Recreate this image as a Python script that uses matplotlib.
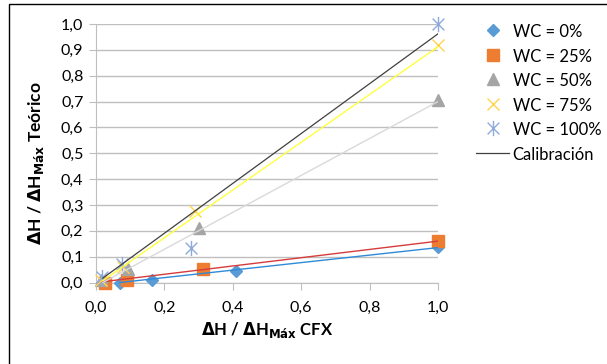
import matplotlib
matplotlib.use('Agg')
import matplotlib.pyplot as plt
from matplotlib.path import Path
from matplotlib.patches import Rectangle

# puntos (CFX, Teórico) por serie
cfx_0 = [0.07, 0.165, 0.41, 1.0]
teo_0 = [0.0, 0.01, 0.043, 0.137]
cfx_25 = [0.025, 0.09, 0.313, 1.0]
teo_25 = [0.0, 0.01, 0.052, 0.16]
cfx_50 = [0.015, 0.094, 0.30, 1.0]
teo_50 = [0.01, 0.054, 0.21, 0.705]
cfx_75 = [0.015, 0.08, 0.29, 1.0]
teo_75 = [0.01, 0.06, 0.277, 0.918]
cfx_100 = [0.018, 0.075, 0.278, 1.0]
teo_100 = [0.02, 0.073, 0.134, 1.0]

# líneas de tendencia (extremos)
lin_0 = ([0.07, 1.0], [0.0, 0.135])
lin_25 = ([0.02, 1.0], [0.003, 0.16])
lin_50 = ([0.02, 1.0], [0.0, 0.70])
lin_75 = ([0.02, 1.0], [0.007, 0.912])
lin_cal = ([0.02, 1.0], [0.017, 0.962])

ticks = [0.0, 0.1, 0.2, 0.3, 0.4, 0.5, 0.6, 0.7, 0.8, 0.9, 1.0]
xticks = [0.0, 0.2, 0.4, 0.6, 0.8, 1.0]

plt.rcParams['font.family'] = ['Lato', 'DejaVu Sans']

fig = plt.figure(figsize=(6.07, 3.64), dpi=100)
ax = fig.add_axes([96 / 607, 1 - 282.5 / 364, 342 / 607, 258.5 / 364])

# marco de la figura
fig.patches.append(Rectangle((9 / 607, -0.1), 1.2, 1.1 - 4 / 364, transform=fig.transFigure,
                             fill=False, edgecolor='black', linewidth=1))

# asterisco tipo Excel (X con línea vertical)
star = Path([(-1, -1), (1, 1), (-1, 1), (1, -1), (0, -1.3), (0, 1.3)],
            [Path.MOVETO, Path.LINETO, Path.MOVETO, Path.LINETO, Path.MOVETO, Path.LINETO])

ax.plot(cfx_0, teo_0, 'D', color='#5B9BD5', ms=6, label='WC = 0%', clip_on=False, zorder=3)
ax.plot(cfx_25, teo_25, 's', color='#ED7D31', ms=8, label='WC = 25%', clip_on=False, zorder=3)
ax.plot(cfx_50, teo_50, '^', color='#A5A5A5', ms=9, label='WC = 50%', clip_on=False, zorder=3)
ax.plot(cfx_75, teo_75, 'x', color='#FFD34D', ms=9, mew=1, label='WC = 75%', clip_on=False, zorder=3)
ax.plot(cfx_100, teo_100, linestyle='none', marker=star, color='#8EA9DB', mfc='none',
        ms=11, mew=1, label='WC = 100%', clip_on=False, zorder=3)

ax.plot(*lin_0, color='#2E8BD8', lw=1, zorder=4)
ax.plot(*lin_25, color='#D63C3C', lw=1, zorder=4)
ax.plot(*lin_50, color='#D9D9D9', lw=1, zorder=4)
ax.plot(*lin_75, color='#FFFF40', lw=1, zorder=4)
ax.plot(*lin_cal, color='#404040', lw=0.9, zorder=4, label='Calibración')

ax.set_xlim(0, 1.0)
ax.set_ylim(0, 1.0)
ax.set_yticks(ticks)
ax.set_xticks(xticks)
ax.set_yticklabels([f'{t:.1f}'.replace('.', ',') for t in ticks])
ax.set_xticklabels([f'{t:.1f}'.replace('.', ',') for t in xticks])
ax.yaxis.grid(True, color='#BFBFBF', lw=1)
ax.set_axisbelow(True)
for s in ['top', 'right']:
    ax.spines[s].set_visible(False)
for s in ['left', 'bottom']:
    ax.spines[s].set_color('#BFBFBF')
ax.tick_params(axis='both', colors='#BFBFBF', labelcolor='black', labelsize=11.5, length=5)
ax.tick_params(axis='y', pad=4)
ax.tick_params(axis='x', pad=8)

ax.set_xlabel(r'$\mathbf{\Delta}$H / $\mathbf{\Delta}$H$_{\mathbf{Máx}}$ CFX', fontsize=12,
              fontweight='bold', labelpad=4)
ax.set_ylabel(r'$\mathbf{\Delta}$H / $\mathbf{\Delta}$H$_{\mathbf{Máx}}$ Teórico', fontsize=12.5,
              fontweight='bold')
ax.yaxis.set_label_coords(-0.145, 0.46)

ax.legend(loc='upper left', bbox_to_anchor=(476 / 607, 1 - 23 / 364), bbox_transform=fig.transFigure,
          frameon=False, fontsize=12, handlelength=2.0, handleheight=1.2, handletextpad=0.2,
          labelspacing=0.44, borderaxespad=0, borderpad=0)

fig.savefig('out.png', dpi=100)
